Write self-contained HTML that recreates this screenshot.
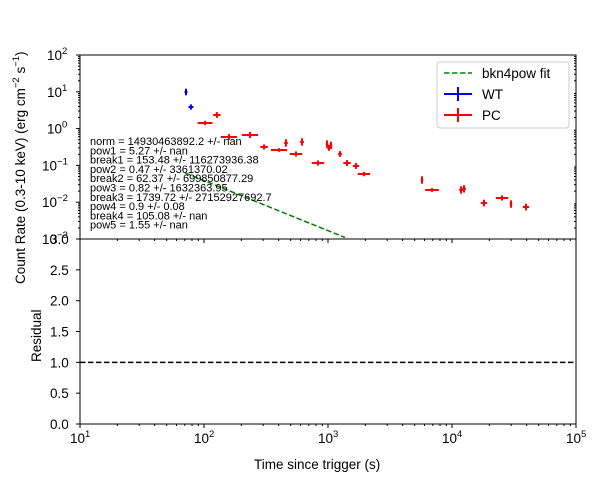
<!DOCTYPE html>
<html><head><meta charset="utf-8"><style>
body{margin:0;background:#fff}
svg text{font-family:"Liberation Sans","DejaVu Sans",sans-serif;fill:#000}
</style></head><body>
<svg id="c" width="598" height="482" xmlns="http://www.w3.org/2000/svg"></svg>
<script>
const wtTime=[71.6,78.5];
const wtRate=[9.9,3.86];
const wtXErrDex=[0.012,0.02];
const wtYErrDex=[0.09,0.07];
const pcTime=[102,127,159,235,305,403,458,552,617,830,981,1018,1057,1250,1423,1682,1950,5730,6900,11830,12500,18100,25300,29900,39500];
const pcRate=[1.42,2.34,0.59,0.67,0.316,0.262,0.406,0.204,0.433,0.116,0.382,0.30,0.35,0.204,0.116,0.0964,0.0583,0.0401,0.0215,0.0215,0.0230,0.0095,0.013,0.0089,0.0074];
const pcXErrDex=[0.06,0.03,0.065,0.065,0.03,0.065,0.015,0.05,0.015,0.05,0.01,0.015,0.01,0.015,0.03,0.025,0.05,0.01,0.055,0.015,0.015,0.025,0.05,0.01,0.025];
const pcYErrDex=[0.06,0.08,0.08,0.08,0.07,0.05,0.1,0.07,0.1,0.07,0.1,0.08,0.1,0.08,0.08,0.08,0.06,0.1,0.05,0.1,0.1,0.09,0.07,0.1,0.09];
const fitTime=[70.6,1370];
const fitRate=[0.062,0.0011];
const xTicks=[1,2,3,4,5];
const yTicksTop=[2,1,0,-1,-2,-3];
const yTicksRes=[0,0.5,1,1.5,2,2.5,3];
const fitText=["norm = 14930463892.2 +/- nan","pow1 = 5.27 +/- nan","break1 = 153.48 +/- 116273936.38","pow2 = 0.47 +/- 3361370.02","break2 = 62.37 +/- 699850877.29","pow3 = 0.82 +/- 1632363.95","break3 = 1739.72 +/- 27152927692.7","pow4 = 0.9 +/- 0.08","break4 = 105.08 +/- nan","pow5 = 1.55 +/- nan"];

const NS="http://www.w3.org/2000/svg";
const svg=document.getElementById('c');
const L=80,R=576,T=55,M=239,B=424;
const X=t=>L+(Math.log10(t)-1)*(R-L)/4;
const Y=v=>T+(2-Math.log10(v))*(M-T)/5;
const YR=v=>B-v*(B-M)/3;
function el(tag,a,parent){const e=document.createElementNS(NS,tag);for(const k in a)e.setAttribute(k,a[k]);(parent||svg).appendChild(e);return e;}
function txt(s,x,y,a){const e=el('text',Object.assign({x:x,y:y,'font-size':13.5},a||{}));e.textContent=s;return e;}

let f1=el('rect',{x:L,y:T,width:R-L,height:M-T,fill:'none',stroke:'#000','stroke-width':1});


let f2=el('rect',{x:L,y:M,width:R-L,height:B-M,fill:'none',stroke:'#000','stroke-width':1});



xTicks.forEach(p=>{
  const x=L+(p-1)*(R-L)/4;
  el('line',{x1:x,x2:x,y1:B,y2:B+4,stroke:'#000'});
  el('line',{x1:x,x2:x,y1:M,y2:M+4,stroke:'#000'});
  const t=txt('',x-10,B+19,{'font-size':13.5});
  t.innerHTML='10<tspan dy="-6" font-size="9.5">'+p+'</tspan>';
  
  
  if(p<5)for(let k=2;k<10;k++){const xm=X(Math.pow(10,p)*k);
    el('line',{x1:xm,x2:xm,y1:B,y2:B+2,stroke:'#000'});el('line',{x1:xm,x2:xm,y1:M,y2:M+2,stroke:'#000'});}
});
yTicksTop.forEach(p=>{
  const y=Y(Math.pow(10,p));
  el('line',{x1:L-4,x2:L,y1:y,y2:y,stroke:'#000'});
  const t=txt('',p<0?42:47,y+5,{'font-size':13.5});
  t.innerHTML='10<tspan dy="-6" font-size="9.5">'+p.toString().replace('-','−')+'</tspan>';
  
  
  if(p>-3)for(let k=2;k<10;k++){const ym=Y(Math.pow(10,p-1)*k);el('line',{x1:L-2,x2:L,y1:ym,y2:ym,stroke:'#000'});el('line',{x1:R,x2:R-2,y1:ym,y2:ym,stroke:'#000'});}
});
yTicksRes.forEach(v=>{
  const y=YR(v);
  el('line',{x1:L-4,x2:L,y1:y,y2:y,stroke:'#000'});
  const t=txt(v.toFixed(1),50,y+5,{'font-size':13.5});
  
  
});

let fl=el('line',{x1:X(fitTime[0]),y1:Y(fitRate[0]),x2:X(fitTime[1]),y2:Y(fitRate[1]),stroke:'#008000','stroke-width':1.5,'stroke-dasharray':'5.5,2.5'});



function cross(t,v,xd,yd,color,name){
  const g=el('g',{});
  
  
  const x=X(t),y=Y(v);
  el('line',{x1:X(t/Math.pow(10,xd)),x2:X(t*Math.pow(10,xd)),y1:y,y2:y,stroke:color,'stroke-width':2},g);
  el('line',{x1:x,x2:x,y1:Y(v*Math.pow(10,yd)),y2:Y(v/Math.pow(10,yd)),stroke:color,'stroke-width':2},g);
}
wtTime.forEach((t,i)=>cross(t,wtRate[i],wtXErrDex[i],wtYErrDex[i],'#0000ff','wt-point'));
pcTime.forEach((t,i)=>cross(t,pcRate[i],pcXErrDex[i],pcYErrDex[i],'#ff0000','pc-point'));

fitText.forEach((s,i)=>{const t=txt(s,90,145+i*9.3,{'font-size':11});
  
  });

let rl=el('line',{x1:L,x2:R,y1:YR(1),y2:YR(1),stroke:'#000','stroke-width':1.5,'stroke-dasharray':'5.5,2.5'});



const lg=el('g',{});


el('rect',{x:437,y:62,width:132,height:66,rx:3,fill:'#fff',stroke:'#ccc'},lg);
el('line',{x1:444,x2:472,y1:73,y2:73,stroke:'#008000','stroke-width':1.5,'stroke-dasharray':'5.5,2.5'},lg);
let t1=txt('bkn4pow fit',482,78);lg.appendChild(t1);
el('line',{x1:444,x2:472,y1:94,y2:94,stroke:'#0000ff','stroke-width':2},lg);
el('line',{x1:458,x2:458,y1:87,y2:101,stroke:'#0000ff','stroke-width':2},lg);
let t2=txt('WT',482,99);lg.appendChild(t2);
el('line',{x1:444,x2:472,y1:115,y2:115,stroke:'#ff0000','stroke-width':2},lg);
el('line',{x1:458,x2:458,y1:108,y2:122,stroke:'#ff0000','stroke-width':2},lg);
let t3=txt('PC',482,120);lg.appendChild(t3);

let xl=txt('Time since trigger (s)',254,469);


let yl=txt('',0,0,{transform:'translate(25,284) rotate(-90)'});
yl.innerHTML='Count Rate (0.3-10 keV) (erg cm<tspan dy="-6" font-size="9.5">−2</tspan><tspan dy="6"> s</tspan><tspan dy="-6" font-size="9.5">−1</tspan><tspan dy="6">)</tspan>';


let rlb=txt('Residual',0,0,{transform:'translate(41,362) rotate(-90)'});


</script>
</body></html>
